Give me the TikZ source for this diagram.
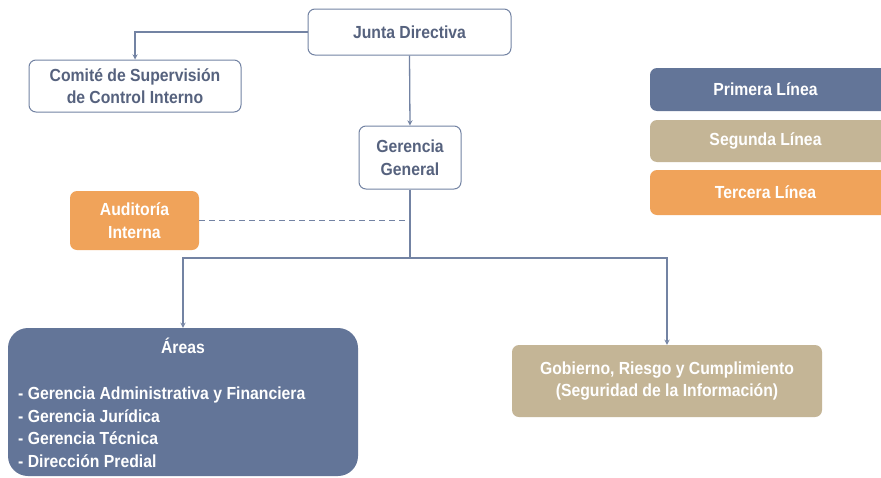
\documentclass[tikz,border=0pt]{standalone}
\usepackage{fontspec}
\setmainfont{Liberation Sans}[FakeStretch=0.9]
\usetikzlibrary{positioning}

\definecolor{lineblue}{HTML}{7383A3}
\definecolor{textblue}{HTML}{56627E}
\definecolor{primera}{HTML}{637598}
\definecolor{segunda}{HTML}{C4B596}
\definecolor{tercera}{HTML}{F0A35A}

\tikzset{
	every box/.style={rounded corners=7pt, font=\fontsize{17.5}{22.5}\selectfont\bfseries, align=center, inner sep=0pt},
	white box/.style={every box, draw=lineblue, line width=1pt, fill=white, text=textblue},
	filled box/.style={every box, text=white},
	connector/.style={draw=lineblue, line width=1.3pt},
}

\begin{document}
\begin{tikzpicture}[x=1pt, y=-1pt, >=stealth]
	\useasboundingbox [fill=white] (0,0) rectangle (881,477);
	
	% white boxes
	\node [white box, minimum width=203pt, minimum height=46pt] (junta) at (409.5,32) {Junta Directiva};
	\node [white box, minimum width=212pt, minimum height=52pt] (comite) at (135,86) {Comité de Supervisión\\de Control Interno};
	\node [white box, minimum width=102pt, minimum height=63pt] (gerencia) at (410,157.5) {Gerencia\\General};
	
	% filled boxes
	\node [filled box, fill=tercera, minimum width=129pt, minimum height=59pt] (auditoria) at (134.5,220.5) {Auditoría\\Interna};
	\node [filled box, fill=primera, rounded corners=20pt, minimum width=350pt, minimum height=148pt] (areas) at (183,402) {};
	\node [filled box, fill=segunda, minimum width=310pt, minimum height=72pt] (gobierno) at (667,381) {Gobierno, Riesgo y Cumplimiento\\(Seguridad de la Información)};
	
	\node [filled box, below=10pt of areas.north] (areas-title) {Áreas};
	\node [filled box, align=left, anchor=west] (areas-list) at (18,427) {- Gerencia Administrativa y Financiera\\- Gerencia Jurídica\\- Gerencia Técnica\\- Dirección Predial};
	
	% legend
	\foreach \l/\c/\y/\h [count=\i] in {Primera Línea/primera/89.5/43, Segunda Línea/segunda/141/42, Tercera Línea/tercera/192.5/45}
	\node [filled box, fill=\c, minimum width=240pt, minimum height=\h pt] (legend-\i) at (770,\y) {\hspace*{-9pt}\l};
	
	% connectors
	\coordinate (split) at (410,258);
	\draw [connector, ->] (junta.west) -| (comite.north);
	\draw [connector, ->] (junta.south) -- (gerencia.north);
	\draw [connector] (gerencia.south) -- (split);
	\draw [connector, ->] (split) -| (areas.north);
	\draw [connector, ->] (split) -| (gobierno.north);
	\draw [connector, dashed, dash pattern=on 6pt off 4pt] (auditoria.east) -- (auditoria.east -| gerencia.south);
\end{tikzpicture}
\end{document}
